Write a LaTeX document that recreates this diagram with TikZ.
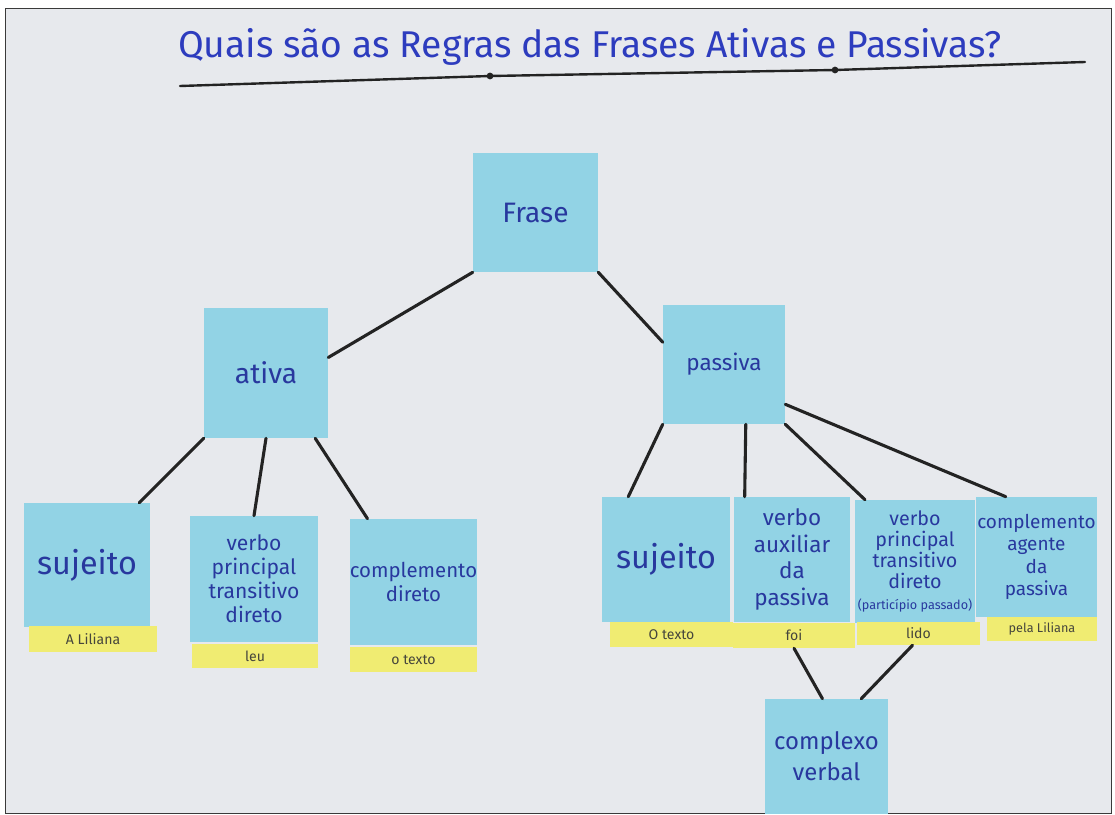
\documentclass[tikz,border=0pt]{standalone}
\usepackage{fontspec}
\setmainfont{Fira Sans}
\definecolor{board}{HTML}{E7E9ED}
\definecolor{frame}{HTML}{3A3A3A}
\definecolor{paper}{HTML}{92D3E5}
\definecolor{tape}{HTML}{F0EC72}
\definecolor{ink}{HTML}{28389E}
\definecolor{titleink}{HTML}{2D3CBE}
\definecolor{marker}{HTML}{232323}
\definecolor{pencil}{HTML}{46463C}
\newcommand{\fsz}[2]{\fontsize{#1}{#2}\selectfont}
\tikzset{
  postit/.style={fill=paper, text=ink, align=center, inner sep=0pt, minimum width=3.15cm, minimum height=3.1cm},
  tag/.style={fill=tape, text=pencil, inner sep=0pt, minimum width=3.1cm, minimum height=0.62cm, font=\fsz{10}{12}},
  stick/.style={draw=marker, line width=2.2pt, line cap=round},
}
\begin{document}
\begin{tikzpicture}[x=0.025cm, y=-0.025cm]
    \useasboundingbox (0,0) rectangle (1115,814);
    \fill[white] (0,0) rectangle (1115,814);
    \filldraw[fill=board, draw=frame, line width=0.6pt] (5,8) rectangle (1111,813);
    % title and its underline
    \node[text=titleink, font=\fsz{26.5}{30}] (title) at (590,47) {Quais são as Regras das Frases Ativas e Passivas?};
    \draw[stick, line width=1.7pt] (180,86) -- (490,76) -- (835,70) -- (1085,62);
    \foreach \x/\y in {490/76, 835/70} { \fill[marker] (\x,\y) circle (2.4pt); }
    % top of the tree
    \node[postit, minimum width=3.125cm, minimum height=2.975cm, font=\fsz{20}{24}] (frase) at (535.5,212.5) {Frase};
    \node[postit, minimum width=3.1cm, minimum height=3.25cm, font=\fsz{20}{24}] (ativa) at (266,373) {ativa};
    \node[postit, minimum width=3.05cm, minimum height=2.975cm, font=\fsz{16}{20}] (passiva) at (724,364.5) {passiva};
    % active sentence
    \node[postit, font=\fsz{23}{26}] (suj1) at (87,565) {sujeito};
    \node[postit, minimum width=3.2cm, minimum height=3.15cm, font=\fsz{15}{17}] (verb1) at (254,579) {verbo\\principal\\transitivo\\direto};
    \node[postit, minimum width=3.175cm, minimum height=3.15cm, font=\fsz{14.5}{17}] (comp1) at (413.5,582) {complemento\\direto};
    \node[tag, minimum width=3.2cm, minimum height=0.65cm] (t1) at (93,639) {A Liliana};
    \node[tag, minimum width=3.15cm, minimum height=0.6cm] (t2) at (255,656) {leu};
    \node[tag, minimum width=3.175cm, minimum height=0.625cm] (t3) at (413.5,659.5) {o texto};
    % passive sentence
    \node[postit, minimum width=3.2cm, minimum height=3.125cm, font=\fsz{23}{26}] (suj2) at (666,559.5) {sujeito};
    \node[postit, minimum width=2.9cm, minimum height=3.125cm, font=\fsz{16}{19}] (aux2) at (792,559.5) {verbo\\auxiliar\\da\\passiva};
    \node[postit, minimum width=3.0cm, minimum height=3.075cm, font=\fsz{14}{15}] (verb2) at (915,561.5) {verbo\\principal\\transitivo\\direto\\{\fsz{9}{11}(particípio passado)}};
    \node[postit, minimum width=3.025cm, minimum height=3.0cm, font=\fsz{13.5}{16}] (agente2) at (1036.5,557) {complemento\\agente\\da\\passiva};
    \node[tag, minimum width=3.075cm, minimum height=0.625cm] (t4) at (671.5,634.5) {O texto};
    \node[tag, minimum width=3.05cm, minimum height=0.625cm] (t5) at (794,635.5) {foi};
    \node[tag, minimum width=3.075cm, minimum height=0.575cm] (t6) at (918.5,633.5) {lido};
    \node[tag, minimum width=2.75cm, minimum height=0.6cm, font=\fsz{9}{11}] (t7) at (1042,629) {pela Liliana};
    \node[postit, minimum width=3.075cm, minimum height=2.875cm, font=\fsz{17}{22}] (complexo) at (826.5,756.5) {complexo\\verbal};
    % connectors
    \draw[stick] (frase.south west) -- (ativa.14);
    \draw[stick] (frase.south east) -- (passiva.160);
    \draw[stick] (ativa.south west) -- (suj1.50);
    \draw[stick] (ativa.south) -- (verb1.north);
    \draw[stick] (ativa.-53) -- (comp1.126);
    \draw[stick] (passiva.south west) -- (suj2.121);
    \draw[stick] (passiva.-70) -- (aux2.127);
    \draw[stick] (passiva.south east) -- (verb2.129);
    \draw[stick] (passiva.-33) -- (agente2.117);
    \draw[stick] (t5.south) -- (complexo.94);
    \draw[stick] (t6.-117) -- (complexo.59);
  \end{tikzpicture}
\end{document}
